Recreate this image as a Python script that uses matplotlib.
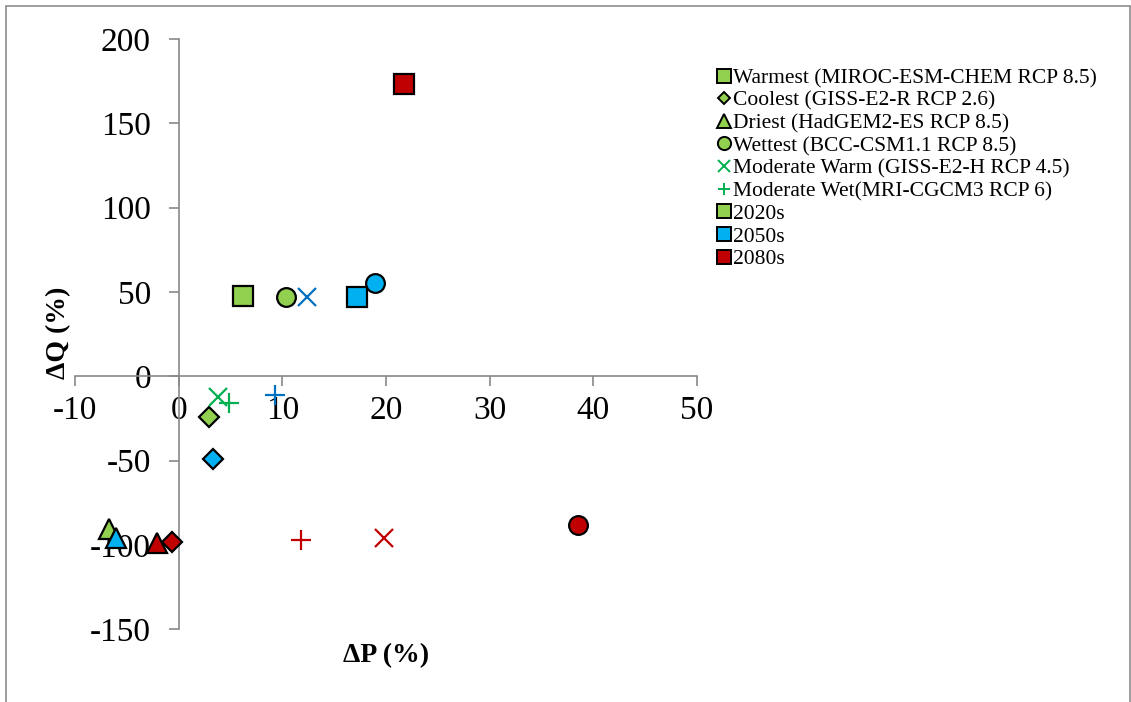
import matplotlib
matplotlib.use("Agg")
import matplotlib.pyplot as plt
from matplotlib.lines import Line2D
from matplotlib.patches import Rectangle

plt.rcParams['font.family'] = ['Liberation Serif', 'DejaVu Serif']

# Scenario models and change in precipitation (dP) vs change in discharge (dQ), %
scenarios = [
    "Warmest (MIROC-ESM-CHEM RCP 8.5)",
    "Coolest (GISS-E2-R RCP 2.6)",
    "Driest (HadGEM2-ES RCP 8.5)",
    "Wettest (BCC-CSM1.1 RCP 8.5)",
    "Moderate Warm (GISS-E2-H RCP 4.5)",
    "Moderate Wet(MRI-CGCM3 RCP 6)",
]
periods = ["2020s", "2050s", "2080s"]

dp_2020s = [6.2, 2.9, -6.7, 10.4, 3.8, 4.9]
dq_2020s = [47.6, -24.3, -90.7, 46.8, -12.1, -16.0]
dp_2050s = [17.2, 3.3, -6.0, 18.9, 12.4, 9.3]
dq_2050s = [47.2, -49.2, -96.0, 55.5, 47.2, -11.1]
dp_2080s = [21.7, -0.6, -2.1, 38.5, 19.8, 11.8]
dq_2080s = [173.4, -98.0, -99.0, -88.1, -95.7, -97.0]

x_ticks = [-10, 0, 10, 20, 30, 40, 50]
y_ticks = [-150, -100, -50, 0, 50, 100, 150, 200]

# marker shape, size for each scenario
markers = ['s', 'D', '^', 'o', 'x', '+']
sizes = [14, 10, 14, 13.5, 13, 14]
legend_sizes = [9.5, 6.4, 9.5, 9.5, 9, 9]

fill_colors = {"2020s": "#92D050", "2050s": "#00B0F0", "2080s": "#C00000"}
line_colors = {"2020s": "#00B050", "2050s": "#0070C0", "2080s": "#C00000"}

data = {
    "2020s": (dp_2020s, dq_2020s),
    "2050s": (dp_2050s, dq_2050s),
    "2080s": (dp_2080s, dq_2080s),
}

fig = plt.figure(figsize=(11.31, 7.02), dpi=100)
W, H = 1131, 702
ax = fig.add_axes([75 / W, 1 - 629.3 / H, 622 / W, 590.3 / H])
ax.set_xlim(-10, 50)
ax.set_ylim(-150, 200)

for period in periods:
    xs, ys = data[period]
    for i, (m, ms) in enumerate(zip(markers, sizes)):
        if m in ('x', '+'):
            ax.plot(xs[i], ys[i], linestyle='none', marker=m, markersize=ms,
                    markeredgewidth=1.6, color=line_colors[period], zorder=3)
        else:
            ax.plot(xs[i], ys[i], linestyle='none', marker=m, markersize=ms,
                    markerfacecolor=fill_colors[period], markeredgecolor='black',
                    markeredgewidth=1.6, zorder=3)

# axes crossing at the origin
spine_color = '#898989'
ax.spines['left'].set_position(('data', 0))
ax.spines['bottom'].set_position(('data', 0))
ax.spines['right'].set_visible(False)
ax.spines['top'].set_visible(False)
for s in ('left', 'bottom'):
    ax.spines[s].set_color(spine_color)
    ax.spines[s].set_linewidth(1.2)

ax.set_xticks(x_ticks)
ax.set_yticks(y_ticks)
ax.set_xticklabels([str(t) for t in x_ticks])
ax.set_yticklabels([str(t) for t in y_ticks])
ax.tick_params(axis='both', direction='out', length=7, width=1.2, color=spine_color,
               labelsize=24, labelcolor='black')
ax.tick_params(axis='x', pad=7)
ax.tick_params(axis='y', pad=13)

ax.set_xlabel("ΔP (%)", fontsize=20, fontweight='bold', va='center')
ax.set_ylabel("ΔQ (%)", fontsize=20, fontweight='bold', va='center')
ax.xaxis.set_label_coords(0.5, -0.044)
ax.yaxis.set_label_coords(-0.027, 0.502)

# legend: scenario shapes, then period colours
handles = []
labels = []
for name, m, ms in zip(scenarios, markers, legend_sizes):
    if m in ('x', '+'):
        h = Line2D([], [], linestyle='none', marker=m, markersize=ms,
                   markeredgewidth=1.4, color=line_colors["2020s"])
    else:
        h = Line2D([], [], linestyle='none', marker=m, markersize=ms,
                   markerfacecolor=fill_colors["2020s"], markeredgecolor='black',
                   markeredgewidth=1.4)
    handles.append(h)
    labels.append(name)
for period in periods:
    handles.append(Line2D([], [], linestyle='none', marker='s', markersize=9.5,
                          markerfacecolor=fill_colors[period], markeredgecolor='black',
                          markeredgewidth=1.4))
    labels.append(period)

fig.legend(handles, labels, loc='upper left', bbox_to_anchor=(718 / W, 1 - 68 / H),
           frameon=False, fontsize=15.5, handlelength=0.55, handletextpad=0.15,
           labelspacing=0.12, borderpad=0, borderaxespad=0)

# outer chart border
fig.add_artist(Rectangle((5.5 / W, -0.05), (1130 - 5.5) / W, 1.05 - 6 / H,
                         transform=fig.transFigure, fill=False,
                         edgecolor='#8c8c8c', linewidth=1.2))

fig.savefig("out.png", dpi=100)
